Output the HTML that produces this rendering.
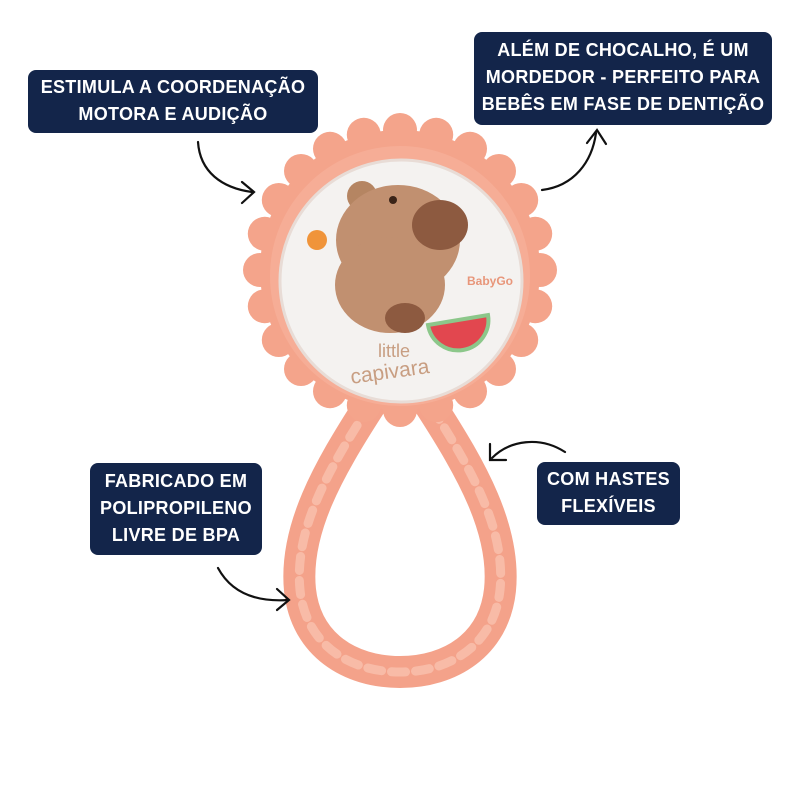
<!DOCTYPE html>
<html><head><style>
body{margin:0;width:800px;height:800px;background:#fff;overflow:hidden;position:relative;font-family:"Liberation Sans",sans-serif}
.l{position:absolute;background:#13254a;color:#fff;font-weight:bold;font-size:18px;line-height:27px;text-align:center;border-radius:8px;letter-spacing:0.3px}
</style></head><body>
<svg width="800" height="800" style="position:absolute;left:0;top:0">
<!-- handle -->
<path id="h" d="M370 405 C328 470 294 530 300 590 C306 645 350 672 400 672 C450 672 494 645 500 590 C506 530 472 470 430 405" fill="none" stroke="#f4a28a" stroke-width="32" stroke-linecap="round"/>
<path d="M370 405 C328 470 294 530 300 590 C306 645 350 672 400 672 C450 672 494 645 500 590 C506 530 472 470 430 405" fill="none" stroke="#f8bba7" stroke-width="9" stroke-dasharray="14 10" stroke-linecap="round"/>
<!-- flower ring -->
<g id="ring" fill="#f4a48b"><circle cx="400" cy="270" r="140"/></g>
<circle cx="400" cy="276" r="130" fill="#f6ad96"/>
<circle cx="401" cy="281" r="121" fill="#f4f2f0" stroke="#e8dcd6" stroke-width="3"/>
<!-- capybara -->
<circle cx="362" cy="196" r="15" fill="#b58562"/>
<ellipse cx="398" cy="240" rx="62" ry="55" fill="#c19070"/>
<ellipse cx="440" cy="225" rx="28" ry="25" fill="#8d5a40"/>
<ellipse cx="390" cy="285" rx="55" ry="48" fill="#c19070"/>
<ellipse cx="405" cy="318" rx="20" ry="15" fill="#8d5a40"/>
<circle cx="393" cy="200" r="4" fill="#3a2418"/>
<circle cx="317" cy="240" r="10" fill="#f0943a"/>
<path d="M428 325 a30 30 0 0 0 60 -10 z" fill="#e2474f" stroke="#8cc78a" stroke-width="4"/>
<text x="467" y="285" font-size="12" fill="#e8967a" font-weight="bold" font-family="Liberation Sans">BabyGo</text>
<text x="378" y="357" font-size="18" fill="#c89e82" font-family="Liberation Sans">little</text>
<text x="350" y="377" font-size="21" fill="#c89e82" font-family="Liberation Sans" transform="rotate(-8 400 370)">capivara</text>
<!-- arrows -->
<g fill="none" stroke="#111" stroke-width="2.2" stroke-linecap="round">
<path d="M198 142 C200 172 222 188 252 192"/><path d="M242 182 L254 192 L242 203"/>
<path d="M542 190 C574 186 592 162 596 133"/><path d="M587 143 L597 130 L606 144"/>
<path d="M565 452 C540 436 510 440 492 458"/><path d="M490 444 L490 460 L506 460"/>
<path d="M218 568 C232 594 258 602 288 600"/><path d="M277 589 L289 600 L277 610"/>
</g>
</svg>
<script>
var g=document.getElementById('ring'),s='';
for(var i=0;i<24;i++){var a=i*Math.PI*2/24;s+='<circle cx="'+(400+140*Math.sin(a)).toFixed(1)+'" cy="'+(270-140*Math.cos(a)).toFixed(1)+'" r="17"/>';}
g.innerHTML+=s;
</script>
<div class="l" style="left:28px;top:70px;width:290px;height:63px;padding-top:4px;box-sizing:border-box">ESTIMULA A COORDENAÇÃO<br>MOTORA E AUDIÇÃO</div>
<div class="l" style="left:474px;top:32px;width:298px;height:93px;padding-top:5px;box-sizing:border-box">ALÉM DE CHOCALHO, É UM<br>MORDEDOR - PERFEITO PARA<br>BEBÊS EM FASE DE DENTIÇÃO</div>
<div class="l" style="left:90px;top:463px;width:172px;height:92px;padding-top:5px;box-sizing:border-box">FABRICADO EM<br>POLIPROPILENO<br>LIVRE DE BPA</div>
<div class="l" style="left:537px;top:462px;width:143px;height:63px;padding-top:4px;box-sizing:border-box">COM HASTES<br>FLEXÍVEIS</div>
</body></html>
